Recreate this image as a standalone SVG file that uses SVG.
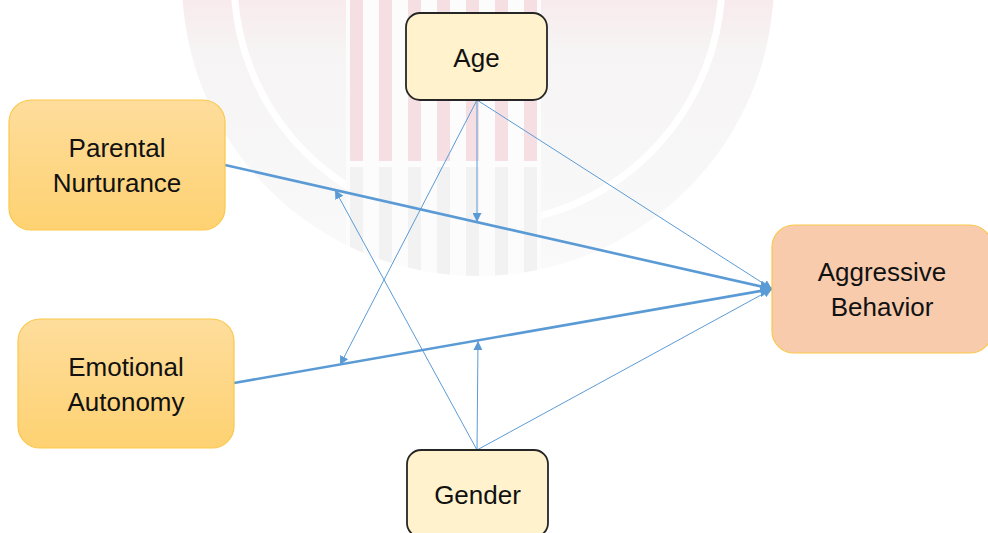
<svg xmlns="http://www.w3.org/2000/svg" width="988" height="533" viewBox="0 0 988 533">
  <style>
    .lbl { font-family: "Liberation Sans", Arial, sans-serif; font-size: 26px; fill: #111; text-anchor: middle; }
    .mod { fill: #fff2cc; stroke: #262626; stroke-width: 1.8; }
    .ind { fill: url(#gOrange); stroke: #fbc74a; stroke-width: 1.2; }
    .dep { fill: #f8cbad; stroke: #fbc74a; stroke-width: 1.2; }
    .thick { stroke: #5b9bd5; stroke-width: 2.6; fill: none; }
    .thin { stroke: #5b9bd5; stroke-width: 1; fill: none; }
  </style>
  <defs>
    <linearGradient id="gOrange" x1="0" y1="0" x2="0" y2="1">
      <stop offset="0" stop-color="#fedd9c"/>
      <stop offset="1" stop-color="#fed272"/>
    </linearGradient>
    <linearGradient id="gSeal" x1="0" y1="0" x2="0" y2="1">
      <stop offset="0" stop-color="#f9e4e8"/>
      <stop offset="0.5" stop-color="#f9e7ea"/>
      <stop offset="0.62" stop-color="#f6f4f4"/>
      <stop offset="1" stop-color="#fafafa"/>
    </linearGradient>
    <clipPath id="sealClip">
      <circle cx="478" cy="-20" r="296"/>
    </clipPath>
    <marker id="aThin" viewBox="0 0 10 10" refX="10" refY="5" markerWidth="9" markerHeight="9" markerUnits="userSpaceOnUse" orient="auto">
      <path d="M0,0 L10,5 L0,10 z" fill="#5b9bd5"/>
    </marker>
    <marker id="aThick" viewBox="0 0 10 10" refX="10" refY="5" markerWidth="12" markerHeight="12" markerUnits="userSpaceOnUse" orient="auto">
      <path d="M0,0 L10,5 L0,10 z" fill="#5b9bd5"/>
    </marker>
  </defs>

  <rect x="0" y="0" width="988" height="533" fill="#ffffff"/>

  <g id="watermark">
    <circle cx="478" cy="-20" r="296" fill="url(#gSeal)"/>
    <circle cx="478" cy="-20" r="244" fill="none" stroke="#ffffff" stroke-width="7"/>
    <g clip-path="url(#sealClip)">
      <rect x="346" y="0" width="195" height="300" fill="#fcfcfc"/>
      <g fill="#f6dfe3">
        <rect x="350" y="0" width="13" height="161"/>
        <rect x="379" y="0" width="13" height="161"/>
        <rect x="408" y="0" width="13" height="161"/>
        <rect x="437" y="0" width="13" height="161"/>
        <rect x="466" y="0" width="13" height="161"/>
        <rect x="495" y="0" width="13" height="161"/>
        <rect x="524" y="0" width="13" height="161"/>
      </g>
      <g fill="#f2f2f2">
        <rect x="350" y="167" width="13" height="140"/>
        <rect x="379" y="167" width="13" height="140"/>
        <rect x="408" y="167" width="13" height="140"/>
        <rect x="437" y="167" width="13" height="140"/>
        <rect x="466" y="167" width="13" height="140"/>
        <rect x="495" y="167" width="13" height="140"/>
        <rect x="524" y="167" width="13" height="140"/>
      </g>
    </g>
  </g>

  <g id="connectors">
    <line class="thick" x1="225" y1="165" x2="772" y2="289" marker-end="url(#aThick)"/>
    <line class="thick" x1="234" y1="383" x2="772" y2="289" marker-end="url(#aThick)"/>
    <line class="thin" x1="477" y1="100" x2="772" y2="289" marker-end="url(#aThin)"/>
    <line class="thin" x1="477" y1="100" x2="477" y2="222" marker-end="url(#aThin)"/>
    <line class="thin" x1="477" y1="100" x2="340" y2="365" marker-end="url(#aThin)"/>
    <line class="thin" x1="477" y1="450" x2="335" y2="190" marker-end="url(#aThin)"/>
    <line class="thin" x1="477" y1="450" x2="478" y2="341" marker-end="url(#aThin)"/>
    <line class="thin" x1="477" y1="450" x2="772" y2="289" marker-end="url(#aThin)"/>
  </g>

  <g id="node-age">
    <rect class="mod" x="406" y="13" width="141" height="87" rx="14" ry="14"/>
    <text class="lbl" x="476.5" y="67">Age</text>
  </g>

  <g id="node-parental-nurturance">
    <rect class="ind" x="9" y="100" width="216" height="130" rx="22" ry="22"/>
    <text class="lbl" x="117" y="157">Parental</text>
    <text class="lbl" x="117" y="192">Nurturance</text>
  </g>

  <g id="node-emotional-autonomy">
    <rect class="ind" x="18" y="319" width="216" height="129" rx="22" ry="22"/>
    <text class="lbl" x="126" y="376">Emotional</text>
    <text class="lbl" x="126" y="411">Autonomy</text>
  </g>

  <g id="node-aggressive-behavior">
    <rect class="dep" x="772" y="225" width="220" height="128" rx="22" ry="22"/>
    <text class="lbl" x="882" y="281">Aggressive</text>
    <text class="lbl" x="882" y="316">Behavior</text>
  </g>

  <g id="node-gender">
    <rect class="mod" x="407" y="450" width="141" height="87" rx="14" ry="14"/>
    <text class="lbl" x="477.5" y="504">Gender</text>
  </g>
</svg>
